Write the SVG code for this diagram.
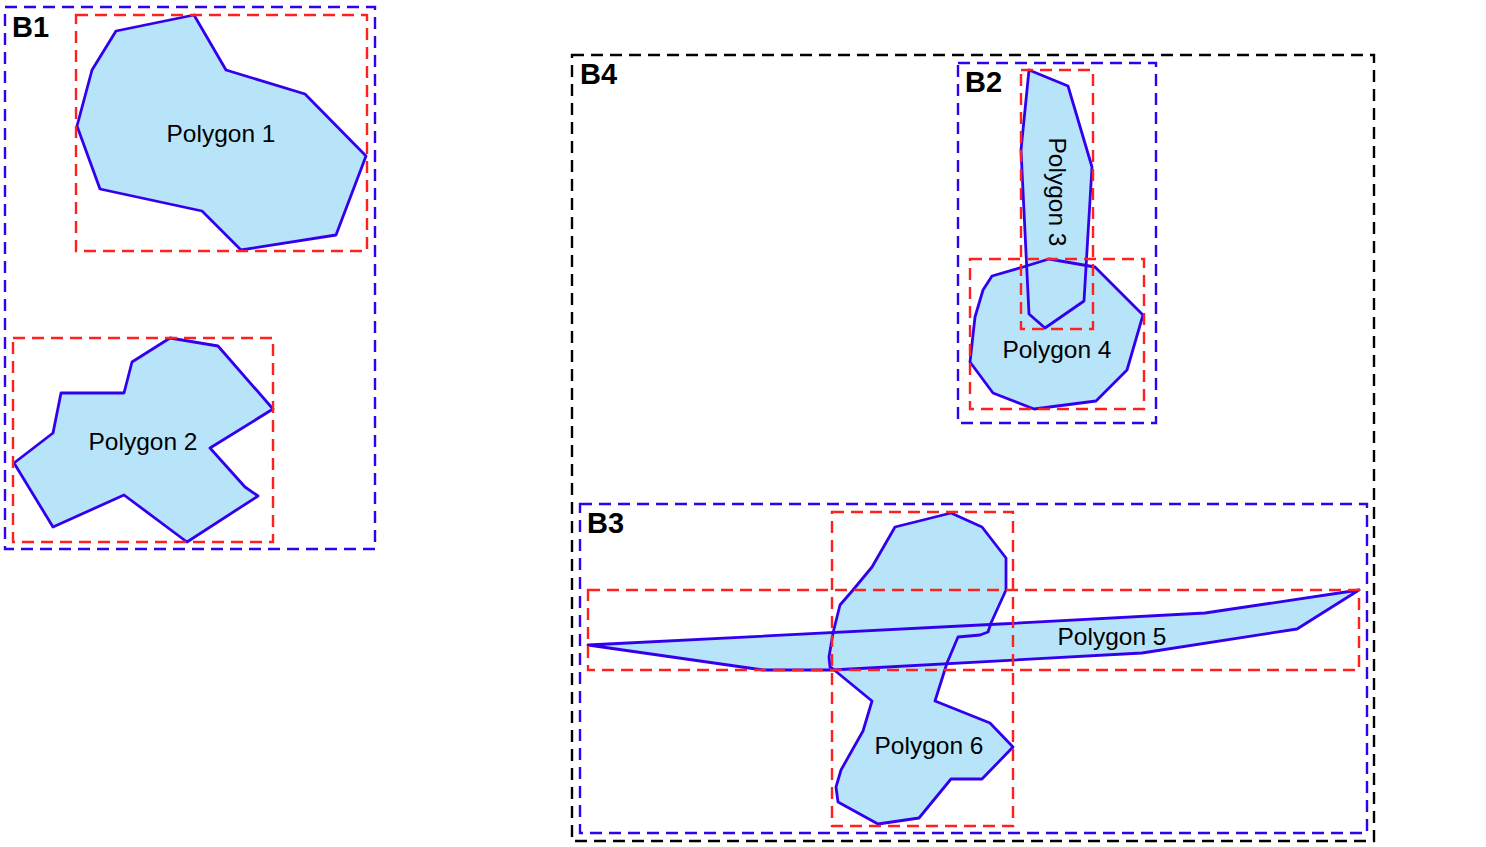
<svg xmlns="http://www.w3.org/2000/svg" xmlns:xlink="http://www.w3.org/1999/xlink" width="1486" height="847" viewBox="0 0 1486 847">
<style>
.bg{fill:#ffffff}
.box{fill:none;stroke-width:2.4;stroke-dasharray:12 7}
.blue{stroke:#3300ee}
.black{stroke:#000000}
.red{fill:none;stroke:#ff2020;stroke-width:2.4;stroke-dasharray:12 7}
.pfill{fill:#b8e4fa;stroke:none}
.pline{fill:none;stroke:#3300ee;stroke-width:2.8;stroke-linejoin:round}
.blabel{font-family:"Liberation Sans",Arial,Helvetica,sans-serif;font-weight:bold;font-size:29px;fill:#000}
.plabel{font-family:"Liberation Sans",Arial,Helvetica,sans-serif;font-size:24.5px;fill:#000;text-anchor:middle}
</style>
<defs>
<polygon id="s1" points="116,31 194,15 226,70 305,94 366,156 336,235 241,250 202,211 100,189 77,126 92,70"/>
<polygon id="s2" points="170,338 218,346 273,409 210,448 245,487 258,496 187,542 124,495 53,527 14,463 53,433 61,393 124,393 132,362"/>
<polygon id="s3" points="1029,70 1068,86 1092,167 1084,301 1045,328 1029,314 1021,150"/>
<polygon id="s4" points="1049,259 1095,267 1143,315 1127,370 1096,401 1034,409 993,393 970,362 975,317 983,290 992,276 1023,267"/>
<polygon id="s5" points="588,645 1000,624 1205,613 1359,590 1297,629 1142,653 832,670 763,670"/>
<polygon id="s6" points="951,513 982,527 1006,558 1006,590 991,623 988,632 980,635 958,637 947,663 935,701 990,723 1013,747 982,779 951,779 919,818 878,824 838,802 836,787 841,770 863,731 872,701 833,669 830,667 829,657 833,633 840,605 853,590 872,567 895,527"/>
</defs>
<rect class="bg" x="0" y="0" width="1486" height="847"/>
<g id="B1">
<rect class="box blue" x="5" y="7" width="370" height="542"/>
<text class="blabel" x="12" y="37">B1</text>
</g>
<g id="B4">
<rect class="box black" x="572" y="55" width="802" height="786"/>
<text class="blabel" x="580" y="84">B4</text>
</g>
<g id="B2">
<rect class="box blue" x="958" y="63" width="198" height="360"/>
<text class="blabel" x="965" y="92">B2</text>
</g>
<g id="B3">
<rect class="box blue" x="580" y="504" width="787" height="329"/>
<text class="blabel" x="587" y="533">B3</text>
</g>
<g id="polygon1"><use xlink:href="#s1" href="#s1" class="pfill"/></g>
<g id="polygon2"><use xlink:href="#s2" href="#s2" class="pfill"/></g>
<g id="polygon3"><use xlink:href="#s3" href="#s3" class="pfill"/></g>
<g id="polygon4"><use xlink:href="#s4" href="#s4" class="pfill"/></g>
<g id="polygon5"><use xlink:href="#s5" href="#s5" class="pfill"/></g>
<g id="polygon6"><use xlink:href="#s6" href="#s6" class="pfill"/></g>
<g id="outlines">
<use xlink:href="#s1" href="#s1" class="pline"/>
<use xlink:href="#s2" href="#s2" class="pline"/>
<use xlink:href="#s3" href="#s3" class="pline"/>
<use xlink:href="#s4" href="#s4" class="pline"/>
<use xlink:href="#s5" href="#s5" class="pline"/>
<use xlink:href="#s6" href="#s6" class="pline"/>
</g>
<g id="labels">
<text class="plabel" x="221" y="142">Polygon 1</text>
<text class="plabel" x="143" y="450">Polygon 2</text>
<text class="plabel" transform="translate(1049,192) rotate(90)">Polygon 3</text>
<text class="plabel" x="1057" y="358">Polygon 4</text>
<text class="plabel" x="1112" y="645">Polygon 5</text>
<text class="plabel" x="929" y="754">Polygon 6</text>
</g>
<g id="bounds">
<rect class="red" x="76" y="15" width="291" height="236"/>
<rect class="red" x="13" y="338" width="260" height="204"/>
<rect class="red" x="1021" y="70" width="72" height="259"/>
<rect class="red" x="970" y="259" width="174" height="150"/>
<rect class="red" x="588" y="590" width="771" height="80"/>
<rect class="red" x="832" y="512" width="181" height="314"/>
</g>
</svg>
